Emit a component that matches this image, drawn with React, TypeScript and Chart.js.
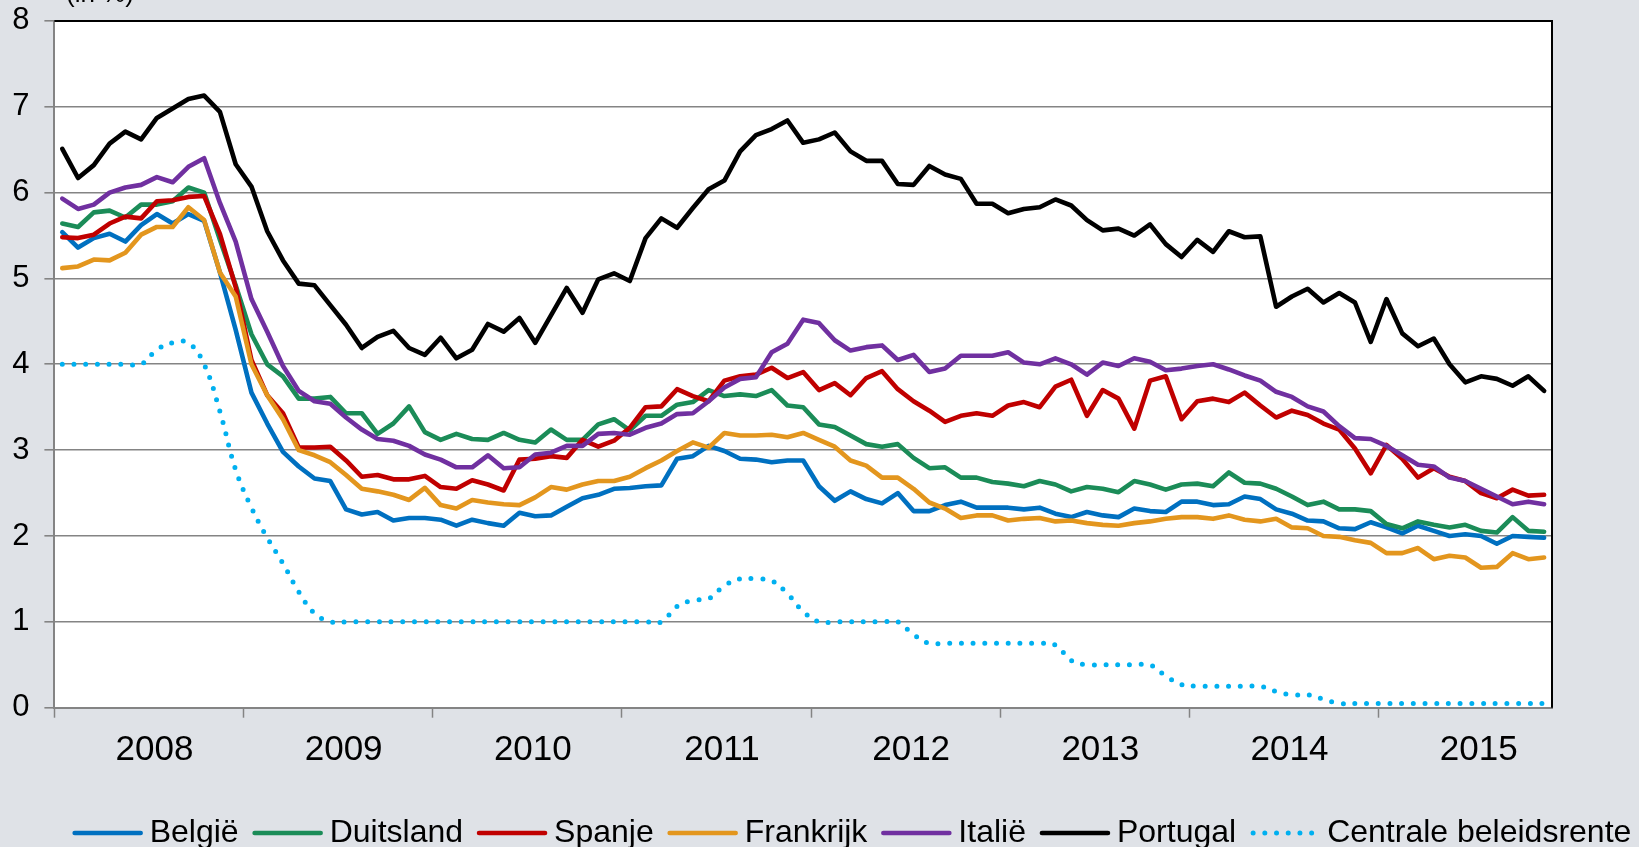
import React, { useEffect, useRef } from "react";
import { Chart, registerables } from "chart.js";

Chart.register(...registerables);

// ---- Data (monthly, Jan 2008 – Nov 2015) ----
const yearLabels = ["2008", "2009", "2010", "2011", "2012", "2013", "2014", "2015"];
const monthsInLastYear = 11;
const monthLabels: string[] = [];
yearLabels.forEach((y, yi) => {
  const n = yi === yearLabels.length - 1 ? monthsInLastYear : 12;
  for (let m = 1; m <= n; m++) monthLabels.push(`${y}-${m < 10 ? "0" + m : m}`);
});

const seriesNames = ["België", "Duitsland", "Spanje", "Frankrijk", "Italië", "Portugal", "Centrale beleidsrente"];

const belgie = [
  5.54, 5.36, 5.47, 5.52, 5.43, 5.62, 5.75, 5.64, 5.75, 5.67, 5.07, 4.40,
  3.67, 3.31, 2.98, 2.81, 2.67, 2.64, 2.31, 2.25, 2.28, 2.18, 2.21, 2.21,
  2.19, 2.12, 2.19, 2.15, 2.12, 2.27, 2.23, 2.24, 2.34, 2.44, 2.48, 2.55,
  2.56, 2.58, 2.59, 2.90, 2.93, 3.05, 2.99, 2.90, 2.89, 2.86, 2.88, 2.88,
  2.58, 2.41, 2.52, 2.43, 2.38, 2.50, 2.29, 2.29, 2.36, 2.40, 2.33, 2.33,
  2.33, 2.31, 2.33, 2.26, 2.22, 2.28, 2.24, 2.22, 2.32, 2.29, 2.28, 2.40,
  2.40, 2.36, 2.37, 2.46, 2.43, 2.31, 2.26, 2.18, 2.17, 2.09, 2.08, 2.16,
  2.10, 2.03, 2.12, 2.06, 2.00, 2.02, 2.00, 1.91, 2.00, 1.99, 1.98,
];

const duitsland = [
  5.64, 5.60, 5.77, 5.79, 5.71, 5.86, 5.86, 5.90, 6.06, 6.00, 5.45, 4.92,
  4.35, 4.00, 3.86, 3.60, 3.60, 3.62, 3.43, 3.43, 3.19, 3.31, 3.51, 3.21,
  3.12, 3.19, 3.13, 3.12, 3.20, 3.12, 3.09, 3.24, 3.12, 3.12, 3.30, 3.36,
  3.23, 3.40, 3.40, 3.53, 3.56, 3.70, 3.63, 3.65, 3.63, 3.70, 3.52, 3.50,
  3.30, 3.27, 3.17, 3.07, 3.04, 3.07, 2.91, 2.79, 2.80, 2.68, 2.68, 2.63,
  2.61, 2.58, 2.64, 2.60, 2.52, 2.57, 2.55, 2.51, 2.64, 2.60, 2.54, 2.60,
  2.61, 2.58, 2.74, 2.62, 2.61, 2.55, 2.46, 2.36, 2.40, 2.31, 2.31, 2.29,
  2.14, 2.09, 2.17, 2.13, 2.10, 2.13, 2.06, 2.04, 2.22, 2.06, 2.05,
];

const spanje = [
  5.48, 5.47, 5.51, 5.64, 5.72, 5.70, 5.90, 5.91, 5.95, 5.96, 5.52, 4.90,
  4.05, 3.64, 3.43, 3.03, 3.03, 3.04, 2.88, 2.69, 2.71, 2.66, 2.66, 2.70,
  2.57, 2.55, 2.65, 2.60, 2.53, 2.89, 2.90, 2.93, 2.91, 3.12, 3.04, 3.11,
  3.26, 3.50, 3.51, 3.71, 3.63, 3.57, 3.81, 3.86, 3.88, 3.96, 3.84, 3.91,
  3.70, 3.78, 3.64, 3.84, 3.92, 3.71, 3.57, 3.46, 3.33, 3.40, 3.43, 3.40,
  3.52, 3.56, 3.50, 3.74, 3.82, 3.40, 3.70, 3.60, 3.25, 3.81, 3.86, 3.36,
  3.57, 3.60, 3.56, 3.67, 3.52, 3.38, 3.46, 3.41, 3.31, 3.24, 3.02, 2.73,
  3.06, 2.90, 2.68, 2.79, 2.69, 2.64, 2.50, 2.44, 2.54, 2.47, 2.48,
];

const frankrijk = [
  5.12, 5.14, 5.22, 5.21, 5.30, 5.51, 5.60, 5.60, 5.83, 5.68, 5.07, 4.79,
  4.00, 3.64, 3.36, 3.00, 2.94, 2.86, 2.71, 2.55, 2.52, 2.48, 2.42, 2.56,
  2.36, 2.32, 2.42, 2.39, 2.37, 2.36, 2.45, 2.57, 2.54, 2.60, 2.64, 2.64,
  2.69, 2.79, 2.88, 2.99, 3.09, 3.03, 3.20, 3.17, 3.17, 3.18, 3.15, 3.20,
  3.12, 3.04, 2.88, 2.82, 2.68, 2.68, 2.55, 2.39, 2.32, 2.21, 2.24, 2.24,
  2.18, 2.20, 2.21, 2.17, 2.18, 2.15, 2.13, 2.12, 2.15, 2.17, 2.20, 2.22,
  2.22, 2.20, 2.24, 2.19, 2.17, 2.20, 2.10, 2.09, 2.00, 1.99, 1.95, 1.92,
  1.80, 1.80, 1.86, 1.73, 1.77, 1.75, 1.63, 1.64, 1.80, 1.73, 1.75,
];

const italie = [
  5.93, 5.81, 5.86, 6.00, 6.06, 6.09, 6.18, 6.12, 6.30, 6.40, 5.88, 5.43,
  4.76, 4.38, 3.98, 3.69, 3.57, 3.54, 3.38, 3.24, 3.13, 3.11, 3.05, 2.95,
  2.89, 2.80, 2.80, 2.94, 2.79, 2.80, 2.95, 2.97, 3.05, 3.05, 3.19, 3.20,
  3.18, 3.26, 3.31, 3.42, 3.43, 3.57, 3.73, 3.83, 3.85, 4.14, 4.24, 4.52,
  4.48, 4.28, 4.16, 4.20, 4.22, 4.05, 4.11, 3.91, 3.95, 4.10, 4.10, 4.10,
  4.14, 4.02, 4.00, 4.07, 4.00, 3.88, 4.02, 3.98, 4.07, 4.03, 3.93, 3.95,
  3.98, 4.00, 3.94, 3.87, 3.81, 3.68, 3.62, 3.51, 3.45, 3.28, 3.14, 3.13,
  3.05, 2.94, 2.83, 2.81, 2.68, 2.64, 2.55, 2.46, 2.37, 2.40, 2.37,
];

const portugal = [
  6.51, 6.17, 6.32, 6.57, 6.71, 6.62, 6.87, 6.98, 7.09, 7.13, 6.94, 6.33,
  6.07, 5.55, 5.21, 4.94, 4.92, 4.69, 4.46, 4.19, 4.32, 4.39, 4.19, 4.11,
  4.31, 4.07, 4.17, 4.47, 4.38, 4.54, 4.25, 4.57, 4.89, 4.60, 4.99, 5.06,
  4.97, 5.47, 5.70, 5.59, 5.82, 6.04, 6.14, 6.48, 6.67, 6.74, 6.84, 6.58,
  6.62, 6.70, 6.48, 6.37, 6.37, 6.10, 6.09, 6.31, 6.21, 6.16, 5.87, 5.87,
  5.76, 5.81, 5.83, 5.92, 5.85, 5.68, 5.56, 5.58, 5.50, 5.63, 5.40, 5.25,
  5.45, 5.31, 5.55, 5.48, 5.49, 4.67, 4.79, 4.88, 4.72, 4.83, 4.72, 4.26,
  4.76, 4.36, 4.21, 4.30, 4.00, 3.79, 3.86, 3.83, 3.75, 3.86, 3.69,
];

const centraleBeleidsrente = [
  4.00, 4.00, 4.00, 4.00, 4.00, 4.00, 4.17, 4.25, 4.25, 4.00, 3.45, 2.77,
  2.33, 1.98, 1.68, 1.35, 1.10, 1.00, 1.00, 1.00, 1.00, 1.00, 1.00, 1.00,
  1.00, 1.00, 1.00, 1.00, 1.00, 1.00, 1.00, 1.00, 1.00, 1.00, 1.00, 1.00,
  1.00, 1.00, 1.00, 1.18, 1.25, 1.27, 1.42, 1.50, 1.50, 1.48, 1.33, 1.12,
  1.00, 1.00, 1.00, 1.00, 1.00, 1.00, 0.85, 0.75, 0.75, 0.75, 0.75, 0.75,
  0.75, 0.75, 0.75, 0.73, 0.55, 0.50, 0.50, 0.50, 0.50, 0.50, 0.37, 0.27,
  0.25, 0.25, 0.25, 0.25, 0.25, 0.19, 0.15, 0.15, 0.10, 0.05, 0.05, 0.05,
  0.05, 0.05, 0.05, 0.05, 0.05, 0.05, 0.05, 0.05, 0.05, 0.05, 0.05,
];

const seriesValues = [belgie, duitsland, spanje, frankrijk, italie, portugal, centraleBeleidsrente];
const yTickValues = [0, 1, 2, 3, 4, 5, 6, 7, 8];

// ---- Styles ----
const seriesColors = ["#0070C0", "#1B8C58", "#C00000", "#E3961E", "#7030A0", "#000000", "#00B0F0"];
const FONT = "'Liberation Sans', Arial, sans-serif";
const BG = "#DFE2E7";
const GRID = "#848484";

const W = 1639;
const H = 847;

const bgPlugin = {
  id: "bgPlugin",
  beforeDraw(chart: any) {
    const { ctx, chartArea } = chart;
    ctx.save();
    ctx.fillStyle = BG;
    ctx.fillRect(0, 0, chart.width, chart.height);
    ctx.fillStyle = "#FFFFFF";
    ctx.fillRect(chartArea.left, chartArea.top, chartArea.right - chartArea.left, chartArea.bottom - chartArea.top);
    ctx.restore();
  },
};

const framePlugin = {
  id: "framePlugin",
  afterDraw(chart: any) {
    const { ctx, chartArea } = chart;
    ctx.save();
    ctx.strokeStyle = "#000000";
    ctx.lineWidth = 2;
    ctx.beginPath();
    ctx.moveTo(chartArea.left, chartArea.top);
    ctx.lineTo(chartArea.right, chartArea.top);
    ctx.lineTo(chartArea.right, chartArea.bottom);
    ctx.stroke();
    // unit caption, mostly cut off at the top edge
    ctx.fillStyle = "#000000";
    ctx.font = `26px ${FONT}`;
    ctx.textBaseline = "alphabetic";
    ctx.textAlign = "left";
    ctx.fillText("(in %)", 66, 2);
    ctx.restore();
  },
};

const legendPlugin = {
  id: "customLegend",
  afterDraw(chart: any) {
    const { ctx } = chart;
    const sample = 70;
    const gapText = 7;
    const gapItem = 14;
    const y = 833;
    ctx.save();
    ctx.font = `32px ${FONT}`;
    const datasets = chart.data.datasets;
    const widths = datasets.map((d: any) => ctx.measureText(d.label).width);
    let total = 0;
    widths.forEach((w: number, i: number) => {
      total += sample + gapText + w + (i < widths.length - 1 ? gapItem : 0);
    });
    let x = 852 - total / 2;
    datasets.forEach((d: any, i: number) => {
      ctx.save();
      ctx.strokeStyle = d.borderColor;
      ctx.lineWidth = d.borderWidth;
      ctx.lineCap = "round";
      ctx.setLineDash(d.borderDash || []);
      ctx.beginPath();
      if (d.borderDash && d.borderDash.length) {
        ctx.moveTo(x + 3, y);
        ctx.lineTo(x + 63, y);
      } else {
        ctx.moveTo(x + 2, y);
        ctx.lineTo(x + sample - 2, y);
      }
      ctx.stroke();
      ctx.restore();
      ctx.fillStyle = "#000000";
      ctx.textBaseline = "middle";
      ctx.textAlign = "left";
      ctx.fillText(d.label, x + sample + gapText, y);
      x += sample + gapText + widths[i] + gapItem;
    });
    ctx.restore();
  },
};

export default function App() {
  const ref = useRef<HTMLCanvasElement | null>(null);

  useEffect(() => {
    if (!ref.current) return;
    const datasets = seriesNames.map((name, i) => {
      const dotted = i === seriesNames.length - 1;
      return {
        label: name,
        data: seriesValues[i],
        borderColor: seriesColors[i],
        backgroundColor: seriesColors[i],
        borderWidth: dotted ? 5 : 4.6,
        borderDash: dotted ? [0, 11.7] : [],
        borderCapStyle: "round" as const,
        borderJoinStyle: "round" as const,
        pointRadius: 0,
        tension: dotted ? 0.4 : 0,
        fill: false,
        order: seriesNames.length - 1 - i,
      };
    });

    const chart = new Chart(ref.current, {
      type: "line",
      data: { labels: monthLabels, datasets },
      options: {
        responsive: false,
        animation: false,
        events: [],
        layout: { padding: { top: 20.9, right: 87, left: 0, bottom: 0 } },
        plugins: {
          legend: { display: false },
          tooltip: { enabled: false },
        },
        scales: {
          x: {
            type: "category",
            offset: true,
            grid: {
              offset: true,
              drawOnChartArea: false,
              drawTicks: true,
              tickLength: 10,
              tickWidth: 1.5,
              tickColor: (c: any) => (c.index % 12 === 0 ? GRID : "rgba(0,0,0,0)"),
            },
            border: { display: true, color: GRID, width: 2 },
            ticks: {
              autoSkip: false,
              maxRotation: 0,
              minRotation: 0,
              labelOffset: -2.4,
              padding: 12,
              color: "#000000",
              font: { family: FONT, size: 35 },
              callback: (_v: any, i: number) => (i % 12 === 6 ? yearLabels[Math.floor(i / 12)] : ""),
            },
            afterFit: (s: any) => {
              s.height = 139.3;
              s.paddingLeft = 0;
              s.paddingRight = 0;
            },
          },
          y: {
            min: yTickValues[0],
            max: yTickValues[yTickValues.length - 1],
            ticks: {
              stepSize: 1,
              padding: 15,
              color: "#000000",
              font: { family: FONT, size: 31 },
            },
            grid: { color: GRID, lineWidth: 1.6, tickLength: 10, drawTicks: true },
            border: { display: true, color: GRID, width: 2 },
            afterFit: (s: any) => {
              s.width = 54.4;
              s.paddingTop = 0;
              s.paddingBottom = 0;
            },
          },
        },
      },
      plugins: [bgPlugin, framePlugin, legendPlugin],
    });
    return () => chart.destroy();
  }, []);

  return (
    <div style={{ position: "fixed", left: 0, top: 0, width: W, height: H, background: BG }}>
      <canvas ref={ref} width={W} height={H} style={{ width: W, height: H, display: "block" }} />
    </div>
  );
}
